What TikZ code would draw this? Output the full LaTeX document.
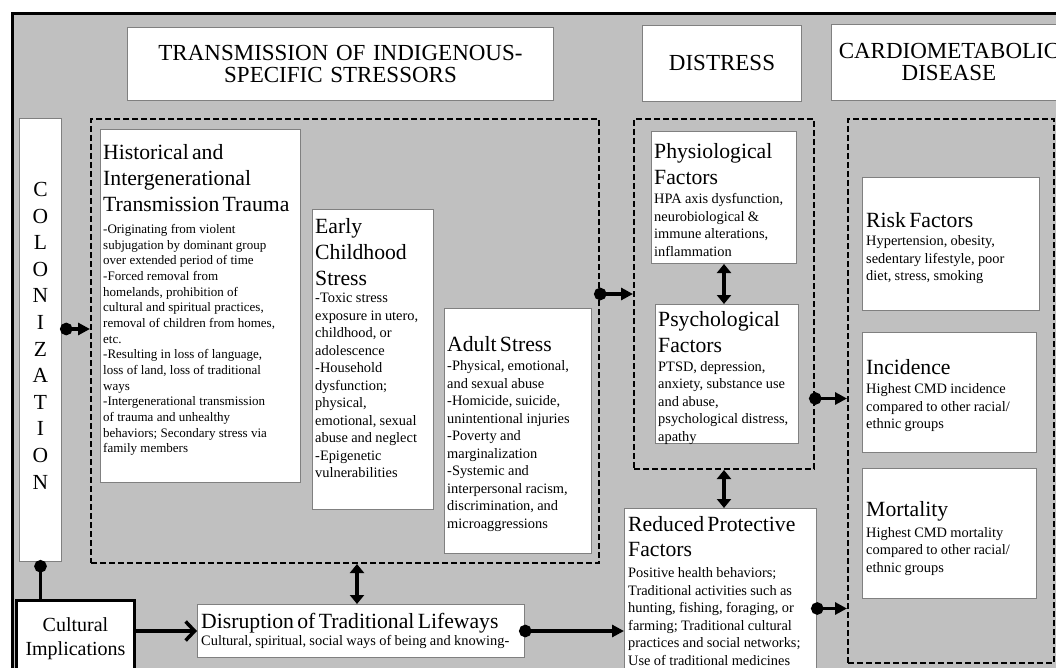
\documentclass[tikz,border=0pt]{standalone}
\usepackage{fontspec}
\setmainfont{Liberation Serif}
\usepackage{tikz}
\usetikzlibrary{positioning,arrows.meta,calc}

\definecolor{bggray}{HTML}{C0C0C0}
\definecolor{boxgray}{HTML}{808080}

\newcommand{\titlefont}{\fontsize{23}{22}\selectfont}
\newcommand{\headfont}{\fontsize{21.7}{25.7}\selectfont}
\newcommand{\bodyfont}{\fontsize{14.4}{17.5}\selectfont}
\newcommand{\smallbody}{\fontsize{13}{15.67}\selectfont}

\begin{document}
\begin{tikzpicture}[x=1pt, y=-1pt,
  box/.style={draw=boxgray, line width=1pt, fill=white, anchor=north west, inner sep=0pt},
  dashbox/.style={draw=black, line width=2pt, dash pattern=on 6pt off 3pt, anchor=north west, inner sep=0pt},
  titlebox/.style={box, align=center, font=\titlefont},
  txt/.style={anchor=north west, align=left, text width=400pt, inner sep=0pt},
  link/.style={line width=3.2pt, shorten <=-6pt, {Circle[length=12.5pt]}-{Triangle[length=12pt, width=12pt]}},
  twoway/.style={line width=3.5pt, {Triangle[length=9pt, width=14pt]}-{Triangle[length=9pt, width=14pt]}},
]
  % Set the page and the frame
  \useasboundingbox (0,0) rectangle (1056,668);
  \clip (0,0) rectangle (1056,668);
  \fill[white] (0,0) rectangle (1056,668);
  \draw[line width=3pt, fill=bggray] (12,14) rectangle (1090,700);

  % Column titles
  \node[titlebox, text width=426pt, minimum height=73pt] (ttrans) at (127,27) {TRANSMISSION OF INDIGENOUS-\\SPECIFIC STRESSORS\par};
  \node[titlebox, text width=159pt, minimum height=76pt] (tdist) at (642,25) {DISTRESS\par};
  \node[titlebox, text width=235pt, minimum height=76pt] (tcmd) at (831,24) {CARDIOMETABOLIC\\DISEASE\par};

  % Dashed groups
  \node[dashbox, minimum width=508pt, minimum height=444pt] (stress) at (90,118) {};
  \node[dashbox, minimum width=180pt, minimum height=350pt] (dist) at (633,118) {};
  \node[dashbox, minimum width=206pt, minimum height=544pt] (cmd) at (847,118) {};

  % Colonization
  \node[box, minimum width=42pt, minimum height=443pt] (colon) at (19,118) {};
  \node[anchor=north, align=center, text width=40pt, inner sep=0pt, font=\fontsize{21.5}{26.6}\selectfont] (colontxt) at ([yshift=-64pt]colon.north) {C\\O\\L\\O\\N\\I\\Z\\A\\T\\I\\O\\N\par};

  % Stressors
  \node[box, minimum width=200pt, minimum height=353pt] (hist) at (100,129) {};
  \node[txt] (histtxt) at ([xshift=3pt, yshift=-15.5pt]hist.north west) {\headfont Historical and\\Intergenerational\\Transmission Trauma\par
    \vspace{6.7pt}\smallbody -Originating from violent\\subjugation by dominant group\\over extended period of time\\-Forced removal from\\homelands, prohibition of\\cultural and spiritual practices,\\removal of children from homes,\\etc.\\-Resulting in loss of language,\\loss of land, loss of traditional\\ways\\-Intergenerational transmission\\of trauma and unhealthy\\behaviors; Secondary stress via\\family members\par};

  \node[box, minimum width=121pt, minimum height=300pt] (early) at (312,209) {};
  \node[txt] (earlytxt) at ([xshift=3pt, yshift=-9.5pt]early.north west) {\headfont Early\\Childhood\\Stress\par
    \bodyfont -Toxic stress\\exposure in utero,\\childhood, or\\adolescence\\-Household\\dysfunction;\\physical,\\emotional, sexual\\abuse and neglect\\-Epigenetic\\vulnerabilities\par};

  \node[box, minimum width=147pt, minimum height=245pt] (adult) at (444,308) {};
  \node[txt] (adulttxt) at ([xshift=3pt, yshift=-28pt]adult.north west) {\headfont Adult Stress\par
    \vspace{1.8pt}\bodyfont -Physical, emotional,\\and sexual abuse\\-Homicide, suicide,\\unintentional injuries\\-Poverty and\\marginalization\\-Systemic and\\interpersonal racism,\\discrimination, and\\microaggressions\par};

  % Distress
  \node[box, minimum width=145pt, minimum height=132pt] (phys) at (651,131) {};
  \node[txt] (physTxt) at ([xshift=3pt, yshift=-12.5pt]phys.north west) {\headfont Physiological\\Factors\par
    \vspace{1.9pt}\bodyfont HPA axis dysfunction,\\neurobiological \&\\immune alterations,\\inflammation\par};

  \node[box, minimum width=143pt, minimum height=139pt] (psych) at (655,304) {};
  \node[txt] (psychtxt) at ([xshift=3pt, yshift=-7.2pt]psych.north west) {\headfont Psychological\\Factors\par
    \vspace{1.5pt}\bodyfont PTSD, depression,\\anxiety, substance use\\and abuse,\\psychological distress,\\apathy\par};

  \node[box, minimum width=192pt, minimum height=200pt] (reduced) at (624,508) {};
  \node[txt] (reducedtxt) at ([xshift=4pt, yshift=-7.9pt]reduced.north west) {\headfont Reduced Protective\\Factors\par
    \vspace{3.5pt}\bodyfont Positive health behaviors;\\Traditional activities such as\\hunting, fishing, foraging, or\\farming; Traditional cultural\\practices and social networks;\\Use of traditional medicines\par};

  % Cardiometabolic disease
  \node[box, minimum width=177pt, minimum height=133pt] (risk) at (862,177) {};
  \node[txt] (risktxt) at ([xshift=4pt, yshift=-35pt]risk.north west) {\headfont Risk Factors\par
    \vspace{0.8pt}\bodyfont Hypertension, obesity,\\sedentary lifestyle, poor\\diet, stress, smoking\par};

  \node[box, minimum width=174pt, minimum height=120pt] (incid) at (862,332) {};
  \node[txt] (incidtxt) at ([xshift=4pt, yshift=-27.2pt]incid.north west) {\headfont Incidence\par
    \vspace{1.8pt}\bodyfont Highest CMD incidence\\compared to other racial/\\ethnic groups\par};

  \node[box, minimum width=174pt, minimum height=130pt] (mort) at (862,468) {};
  \node[txt] (morttxt) at ([xshift=4pt, yshift=-33.2pt]mort.north west) {\headfont Mortality\par
    \vspace{3.2pt}\bodyfont Highest CMD mortality\\compared to other racial/\\ethnic groups\par};

  % Cultural implications
  \node[draw=black, line width=3pt, fill=white, anchor=north west, inner sep=0pt, minimum width=118pt, minimum height=90pt] (cult) at (15,599) {};
  \node[anchor=north, align=center, inner sep=0pt, font=\fontsize{20}{23.5}\selectfont] (culttxt) at ([yshift=-18.5pt]cult.north) {Cultural\\Implications};

  \node[box, minimum width=327pt, minimum height=53pt] (disrupt) at (197,604) {};
  \node[txt] (disrupttxt) at ([xshift=4pt, yshift=-9pt]disrupt.north west) {\headfont Disruption of Traditional Lifeways\par
    \bodyfont Cultural, spiritual, social ways of being and knowing-\par};

  % Connectors
  \draw[link, shorten <=-2pt] ($(colon.east)+(0,-11)$) -- ($(colon.east -| stress.west)+(0,-11)$);
  \draw[link] (stress.east |- dist.west) -- (dist.west);
  \draw[twoway] (phys.south) -- (phys.south |- psych.north);
  \draw[link] ($(dist.east |- incid.west)+(0,6)$) -- ($(cmd.west |- incid.west)+(0,6)$);
  \draw[twoway] (dist.south) -- (dist.south |- reduced.north);
  \draw[link] (reduced.east) -- (reduced.east -| cmd.west);
  \draw[twoway] ($(disrupt.north |- stress.south)+(-4,0)$) -- ($(disrupt.north)+(-4,0)$);
  \draw[line width=3pt, shorten <=-2pt, {Circle[length=12.5pt]}-] (colon.south) -- (colon.south |- cult.north);
  \draw[line width=3.5pt, -{Straight Barb[length=9pt, width=19pt]}] (cult.east |- disrupt.west) -- (disrupt.west);
  \draw[link] (disrupt.east) -- (disrupt.east -| reduced.west);

\end{tikzpicture}
\end{document}
